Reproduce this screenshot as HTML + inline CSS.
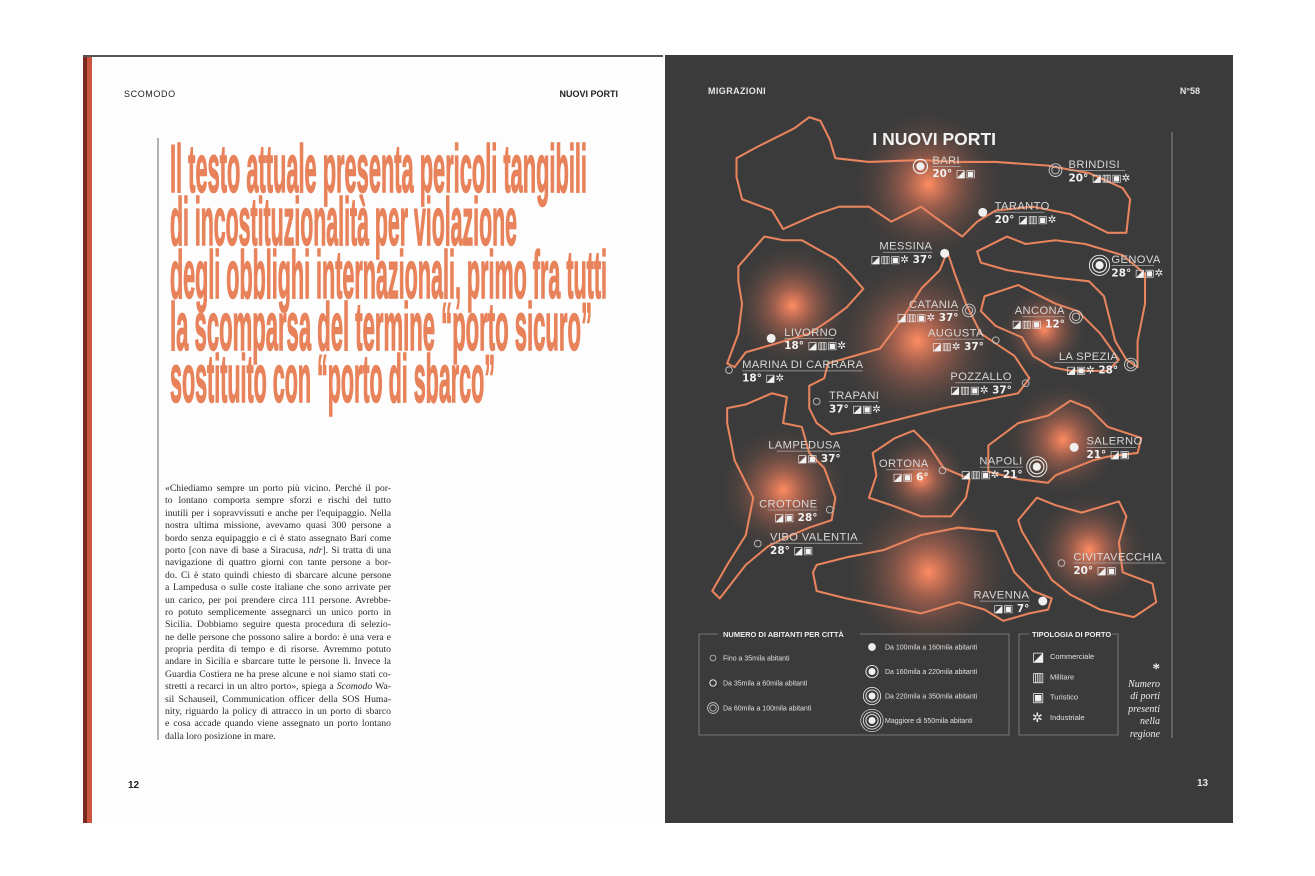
<!DOCTYPE html>
<html><head><meta charset="utf-8">
<style>
html,body{margin:0;padding:0;background:#fff;}
#root{position:relative;width:1315px;height:876px;overflow:hidden;background:#fff;font-family:"Liberation Sans",sans-serif;}
svg{position:absolute;left:0;top:0;}
.body{position:absolute;left:165px;top:483px;width:226px;font-family:"Liberation Serif",serif;font-size:9.7px;line-height:12.4px;color:#2a2a2a;}
.body div{text-align:justify;text-align-last:justify;white-space:nowrap;overflow:hidden;height:12.4px;}
.body div.last{text-align-last:left;}
</style></head>
<body>
<div id="root">
<svg width="1315" height="876" viewBox="0 0 1315 876">
  <defs>
    <radialGradient id="glow">
      <stop offset="0" stop-color="#ff8c62" stop-opacity="1"/>
      <stop offset="0.3" stop-color="#e8795a" stop-opacity="0.55"/>
      <stop offset="1" stop-color="#3b3b3b" stop-opacity="0"/>
    </radialGradient>
  </defs>
  <rect x="83" y="55" width="580" height="768" fill="#fdfdfd"/>
  <rect x="83" y="55" width="580" height="2" fill="#555"/>
  <rect x="83" y="57" width="4" height="766" fill="#7a2a22"/>
  <rect x="87" y="57" width="5" height="766" fill="#c8553f"/>
  <text x="124" y="97" font-size="9" fill="#222" letter-spacing="0.6">SCOMODO</text>
  <text x="618" y="97" font-size="9" font-weight="bold" fill="#222" text-anchor="end">NUOVI PORTI</text>
  <line x1="158" y1="138" x2="158" y2="740" stroke="#666" stroke-width="1"/>
  <g fill="#e8825a" stroke="#e8825a" stroke-width="1.6" font-family="Liberation Sans, sans-serif" font-weight="bold" font-size="68">
    <text x="170" y="192" textLength="417" lengthAdjust="spacingAndGlyphs">Il testo attuale presenta pericoli tangibili</text>
    <text x="170" y="245" textLength="347" lengthAdjust="spacingAndGlyphs">di incostituzionalità per violazione</text>
    <text x="170" y="298" textLength="437" lengthAdjust="spacingAndGlyphs">degli obblighi internazionali, primo fra tutti</text>
    <text x="170" y="350" textLength="422" lengthAdjust="spacingAndGlyphs">la scomparsa del termine “porto sicuro”</text>
    <text x="170" y="402" textLength="325" lengthAdjust="spacingAndGlyphs">sostituito con “porto di sbarco”</text>
  </g>
  <text x="128" y="788" font-size="10" font-weight="bold" fill="#222">12</text>

  <rect x="665" y="55" width="568" height="768" fill="#3b3b3b"/>
  <text x="708" y="94" font-size="9" font-weight="bold" fill="#e6e6e6" letter-spacing="0.4">MIGRAZIONI</text>
  <text x="1200" y="94" font-size="9" font-weight="bold" fill="#e6e6e6" text-anchor="end">N°58</text>
  <text x="1197" y="786" font-size="10" font-weight="bold" fill="#e6e6e6">13</text>
  <line x1="1172" y1="132" x2="1172" y2="738" stroke="#8a8a8a" stroke-width="1"/>

  <g id="map" transform="translate(660,50) scale(0.3731)">
    <g id="glows"></g>
    <g id="regions" fill="none" stroke="#e8845e" stroke-width="5.5" stroke-linejoin="round"></g>
    <text x="735" y="255" font-size="47" font-weight="bold" fill="#f2f2f2" text-anchor="middle">I NUOVI PORTI</text>
    <g id="cities"></g>
  </g>

  <g font-family="Liberation Sans, sans-serif">
    <path d="M718 634 H699 V735 H1009 V634 H860" fill="none" stroke="#8a8a8a" stroke-width="0.8"/>
    <text x="723" y="637" font-size="7.5" font-weight="bold" fill="#eee">NUMERO DI ABITANTI PER CITTÀ</text>
    <path d="M1029 634 H1019 V735 H1118 V634 H1112" fill="none" stroke="#8a8a8a" stroke-width="0.8"/>
    <text x="1032" y="637" font-size="7.5" font-weight="bold" fill="#eee">TIPOLOGIA DI PORTO</text>
    <g id="legend-items"></g>
    <g font-family="Liberation Serif, serif" font-style="italic" font-size="10" fill="#eee" text-anchor="end">
      <text x="1160" y="673" font-size="15" font-style="normal" font-weight="bold">*</text>
      <text x="1160" y="687">Numero</text>
      <text x="1160" y="699">di porti</text>
      <text x="1160" y="712">presenti</text>
      <text x="1160" y="724">nella</text>
      <text x="1160" y="737">regione</text>
    </g>
  </g>
</svg>

<div class="body">
<div>«Chiediamo sempre un porto più vicino. Perché il por-</div>
<div>to lontano comporta sempre sforzi e rischi del tutto</div>
<div>inutili per i sopravvissuti e anche per l'equipaggio. Nella</div>
<div>nostra ultima missione, avevamo quasi 300 persone a</div>
<div>bordo senza equipaggio e ci è stato assegnato Bari come</div>
<div>porto [con nave di base a Siracusa, <i>ndr</i>]. Si tratta di una</div>
<div>navigazione di quattro giorni con tante persone a bor-</div>
<div>do. Ci è stato quindi chiesto di sbarcare alcune persone</div>
<div>a Lampedusa o sulle coste italiane che sono arrivate per</div>
<div>un carico, per poi prendere circa 111 persone. Avrebbe-</div>
<div>ro potuto semplicemente assegnarci un unico porto in</div>
<div>Sicilia. Dobbiamo seguire questa procedura di selezio-</div>
<div>ne delle persone che possono salire a bordo: è una vera e</div>
<div>propria perdita di tempo e di risorse. Avremmo potuto</div>
<div>andare in Sicilia e sbarcare tutte le persone lì. Invece la</div>
<div>Guardia Costiera ne ha prese alcune e noi siamo stati co-</div>
<div>stretti a recarci in un altro porto», spiega a <i>Scomodo</i> Wa-</div>
<div>sil Schauseil, Communication officer della SOS Huma-</div>
<div>nity, riguardo la policy di attracco in un porto di sbarco</div>
<div>e cosa accade quando viene assegnato un porto lontano</div>
<div class="last">dalla loro posizione in mare.</div>
</div>
</div>

<script>
const NS = 'http://www.w3.org/2000/svg';
const regionNames = ['puglia','lombardia','sicilia','liguria','marche','calabria','abruzzo','campania','emilia','lazio'];
const regionShapes = [
 [[205,290],[260,260],[300,240],[360,210],[400,180],[430,190],[455,240],[470,290],[560,300],[700,295],[800,300],[900,300],[1040,310],[1150,330],[1240,370],[1260,400],[1250,490],[1200,490],[1100,440],[1000,420],[900,430],[850,460],[810,500],[740,450],[700,420],[620,460],[560,420],[480,420],[420,440],[330,480],[300,430],[220,400],[205,340]],
 [[210,580],[280,500],[330,510],[380,510],[470,560],[510,600],[545,640],[500,690],[460,720],[400,760],[300,790],[230,810],[200,850],[180,840],[210,760],[220,680],[210,620]],
 [[450,840],[590,800],[650,720],[700,640],[750,590],[770,540],[790,600],[820,680],[860,760],[950,820],[990,880],[960,920],[860,940],[760,960],[680,980],[600,1000],[520,1020],[460,1030],[420,1000],[400,960],[400,900],[440,880]],
 [[850,540],[930,500],[980,520],[1060,510],[1140,520],[1240,550],[1300,600],[1300,680],[1280,780],[1280,850],[1250,830],[1220,780],[1190,660],[1150,620],[1060,610],[930,590],[860,570]],
 [[870,660],[960,630],[1060,680],[1120,700],[1180,760],[1230,830],[1200,860],[1100,860],[1050,850],[1000,820],[970,770],[900,740],[860,700]],
 [[180,960],[230,950],[300,920],[340,930],[330,1000],[380,1010],[400,1080],[440,1120],[470,1200],[460,1260],[400,1280],[330,1310],[290,1330],[230,1380],[160,1470],[140,1450],[180,1380],[230,1300],[250,1200],[200,1100],[180,1000]],
 [[570,1080],[630,1040],[680,1020],[720,1060],[760,1120],[830,1150],[820,1200],[780,1250],[700,1250],[620,1220],[560,1200],[580,1140]],
 [[880,1060],[960,1000],[1040,980],[1100,940],[1150,960],[1200,1010],[1290,1040],[1280,1080],[1200,1090],[1160,1100],[1060,1140],[1040,1160],[960,1150],[880,1130]],
 [[420,1380],[500,1360],[600,1340],[700,1300],[800,1280],[900,1290],[950,1400],[1000,1450],[1050,1470],[1040,1500],[990,1510],[920,1530],[870,1500],[800,1480],[700,1510],[600,1490],[500,1470],[420,1450],[410,1400]],
 [[960,1260],[1010,1200],[1060,1220],[1130,1240],[1230,1210],[1250,1250],[1230,1320],[1240,1400],[1320,1430],[1330,1480],[1270,1520],[1180,1500],[1100,1460],[1050,1420],[1000,1340],[970,1290]]
];
const glowX = [720,355,690,1030,1080,700,330,720,1150];
const glowY = [360,685,780,750,1045,1150,1180,1400,1340];
const glowR = [210,170,230,120,160,130,180,230,160];

const cityNames = ['BARI','BRINDISI','TARANTO','MESSINA','GENOVA','CATANIA','ANCONA','AUGUSTA','LIVORNO','LA SPEZIA','MARINA DI CARRARA','POZZALLO','TRAPANI','LAMPEDUSA','ORTONA','NAPOLI','SALERNO','CROTONE','VIBO VALENTIA','CIVITAVECCHIA','RAVENNA'];
const cityPopClass = [4,2,3,3,5,2,2,0,3,2,0,0,0,-1,0,5,3,0,0,0,3];
const cityX = [698,1060,865,763,1178,828,1115,900,298,1262,185,980,420,515,757,1010,1110,455,262,1076,1026];
const cityY = [312,322,435,545,577,698,715,778,773,843,858,893,942,1075,1127,1117,1065,1232,1323,1375,1477];
const labelX = [730,1095,897,730,1210,800,1085,868,333,1228,220,943,453,484,720,972,1143,422,295,1108,990];
const labelY = [297,308,420,527,563,683,700,760,758,823,845,877,927,1060,1110,1103,1050,1218,1307,1360,1462];
const labelSide = ['s','s','s','e','s','e','e','e','s','e','s','e','s','e','e','e','s','e','s','s','e'];
const cityInfo = ['20° ◪▣','20° ◪▥▣✲','20° ◪▥▣✲','◪▥▣✲ 37°','28° ◪▣✲','◪▥▣✲ 37°','◪▥▣ 12°','◪▥✲ 37°','18° ◪▥▣✲','◪▣✲ 28°','18° ◪✲','◪▥▣✲ 37°','37° ◪▣✲','◪▣ 37°','◪▣ 6°','◪▥▣✲ 21°','21° ◪▣','◪▣ 28°','28° ◪▣','20° ◪▣','◪▣ 7°'];

function el(tag, attrs, parent){ const e=document.createElementNS(NS,tag); for(const k in attrs) e.setAttribute(k,attrs[k]); parent.appendChild(e); return e; }

const gG=document.getElementById('glows');
glowX.forEach((x,i)=>{
  const c=el('circle',{cx:x,cy:glowY[i],r:glowR[i],fill:'url(#glow)'},gG);
  
  
});
const rG=document.getElementById('regions');
regionShapes.forEach((pts,i)=>{
  const p=el('polygon',{points:pts.map(q=>q.join(',')).join(' ')},rG);
  
  
});

function marker(parent,x,y,cls,s){
  const col='#f0f0f0';
  if(cls===0){ el('circle',{cx:x,cy:y,r:9*s,fill:'none',stroke:'#bbb','stroke-width':2.5*s},parent); }
  else if(cls===1){ el('circle',{cx:x,cy:y,r:10*s,fill:'none',stroke:col,'stroke-width':3*s},parent); }
  else if(cls===2){ el('circle',{cx:x,cy:y,r:10*s,fill:'none',stroke:'#ccc','stroke-width':2.5*s},parent); el('circle',{cx:x,cy:y,r:17*s,fill:'none',stroke:'#ccc','stroke-width':2.5*s},parent); }
  else if(cls===3){ el('circle',{cx:x,cy:y,r:12*s,fill:col},parent); }
  else if(cls===4){ el('circle',{cx:x,cy:y,r:11*s,fill:col},parent); el('circle',{cx:x,cy:y,r:19*s,fill:'none',stroke:col,'stroke-width':3*s},parent); }
  else if(cls===5){ el('circle',{cx:x,cy:y,r:11*s,fill:col},parent); el('circle',{cx:x,cy:y,r:19*s,fill:'none',stroke:col,'stroke-width':3*s},parent); el('circle',{cx:x,cy:y,r:27*s,fill:'none',stroke:col,'stroke-width':2.5*s},parent); }
  else if(cls===6){ el('circle',{cx:x,cy:y,r:11*s,fill:col},parent); el('circle',{cx:x,cy:y,r:19*s,fill:'none',stroke:col,'stroke-width':3*s},parent); el('circle',{cx:x,cy:y,r:27*s,fill:'none',stroke:col,'stroke-width':2.5*s},parent); el('circle',{cx:x,cy:y,r:35*s,fill:'none',stroke:col,'stroke-width':2*s},parent); }
}

const cG=document.getElementById('cities');
cityNames.forEach((n,i)=>{
  const g=el('g',{},cG);
  
  
  if(cityPopClass[i]>=0) marker(g,cityX[i],cityY[i],cityPopClass[i],1);
  const anchor = labelSide[i]==='e'?'end':'start';
  const t=el('text',{x:labelX[i],y:labelY[i]+8,'font-size':30,fill:'#d8d8d8','text-anchor':anchor,'letter-spacing':1},g);
  t.textContent=n;
  const w=n.length*19;
  const x0 = anchor==='end'? labelX[i]-w : labelX[i];
  el('line',{x1:x0,y1:labelY[i]+15,x2:x0+w,y2:labelY[i]+15,stroke:'#aaa','stroke-width':2},g);
  const d=el('text',{x:labelX[i],y:labelY[i]+44,'font-size':28,'font-weight':'bold',fill:'#f2f2f2','text-anchor':anchor,'font-family':'DejaVu Sans, sans-serif'},g);
  d.textContent=cityInfo[i];
});

const popLabels=['Fino a 35mila abitanti','Da 35mila a 60mila abitanti','Da 60mila a 100mila abitanti','Da 100mila a 160mila abitanti','Da 160mila a 220mila abitanti','Da 220mila a 350mila abitanti','Maggiore di 550mila abitanti'];
const popCls=[0,1,2,3,4,5,6];
const popCol=[0,0,0,1,1,1,1];
const popRow=[0,1,2,0,1,2,3];
const typeLabels=['Commerciale','Militare','Turistico','Industriale'];
const typeGlyphs=['◪','▥','▣','✲'];
const lG=document.getElementById('legend-items');
popLabels.forEach((l,i)=>{
  const g=el('g',{},lG);
  
  
  const mx = popCol[i]? 872 : 713;
  const my = popCol[i]? 647+popRow[i]*24.5 : 658+popRow[i]*25;
  marker(g,mx,my,popCls[i],0.32);
  const t=el('text',{x:popCol[i]?885:723,y:my+2.5,'font-size':7,fill:'#e0e0e0'},g);
  t.textContent=l;
});
typeLabels.forEach((l,i)=>{
  const g=el('g',{},lG);
  
  
  const y=656+i*20.3;
  const a=el('text',{x:1032,y:y+5,'font-size':13,fill:'#f0f0f0','font-family':'DejaVu Sans, sans-serif'},g);
  a.textContent=typeGlyphs[i];
  const t=el('text',{x:1050,y:y+3,'font-size':7.5,fill:'#e0e0e0'},g);
  t.textContent=l;
});
</script>
</body></html>
